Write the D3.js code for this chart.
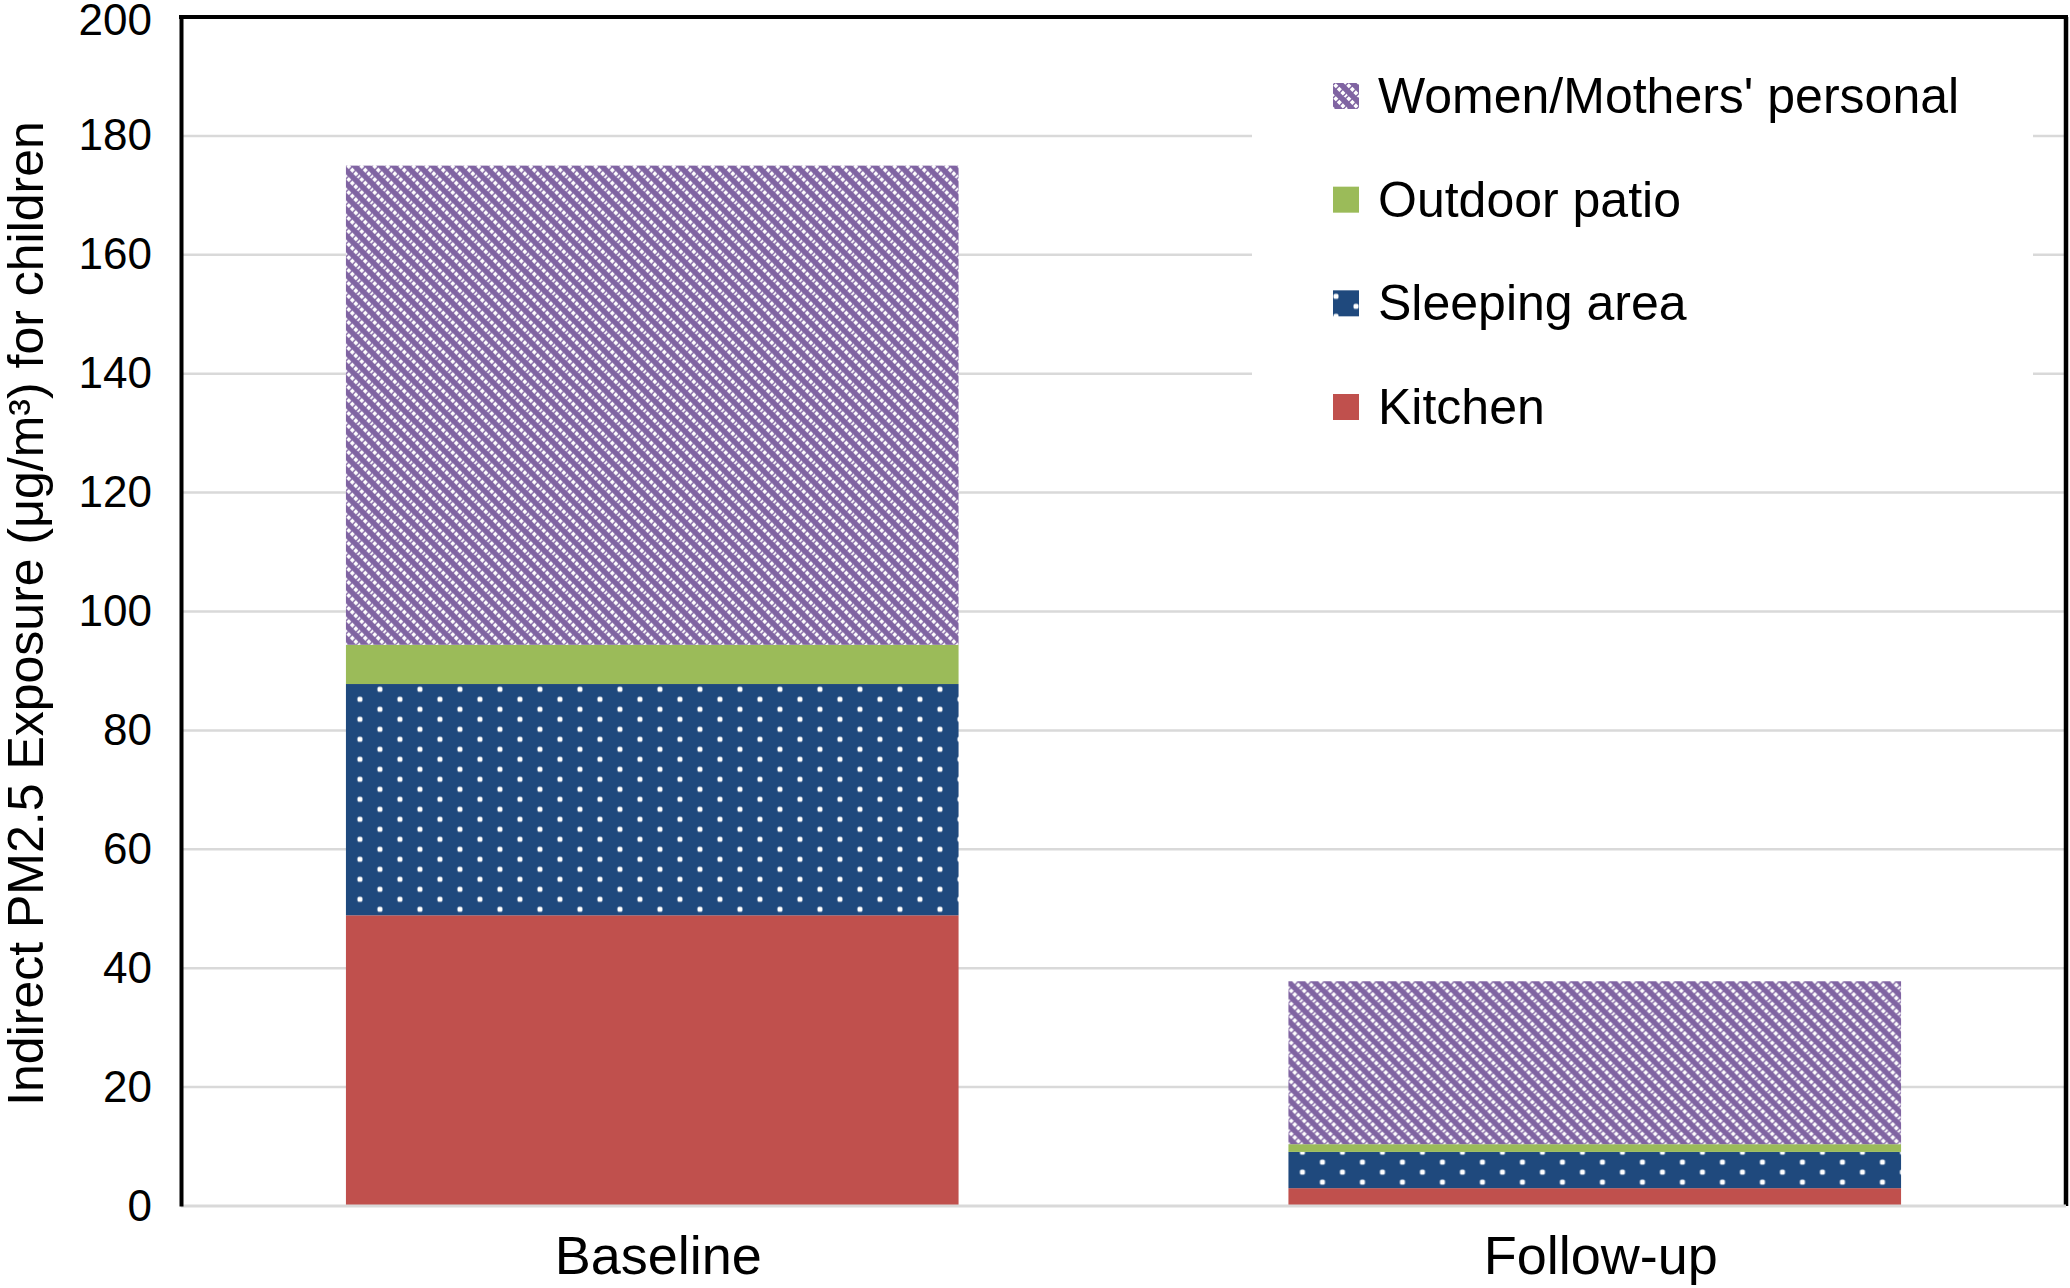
<!DOCTYPE html>
<html>
<head>
<meta charset="utf-8">
<script src="https://cdn.jsdelivr.net/npm/d3@7"></script>
<style>
  html, body { margin: 0; padding: 0; background: #ffffff; }
  svg { display: block; font-family: "Liberation Sans", Arial, sans-serif; }
</style>
</head>
<body>
<svg id="chart" width="2070" height="1288"></svg>
<script>
// ---- data ----
const categories = ["Baseline", "Follow-up"];
const seriesNames = ["Kitchen", "Sleeping area", "Outdoor patio", "Women/Mothers' personal"];
const kitchen = [48.9, 3.0];
const sleepingArea = [38.9, 6.1];
const outdoorPatio = [6.6, 1.3];
const womenPersonal = [80.6, 27.4];
const yTicks = [0, 20, 40, 60, 80, 100, 120, 140, 160, 180, 200];
const yTitle = "Indirect PM2.5 Exposure (\u03BCg/m\u00B3) for children";
const legendOrder = ["Women/Mothers' personal", "Outdoor patio", "Sleeping area", "Kitchen"];

// ---- layout ----
const plotLeft = 181, plotRight = 2066, plotTop = 17, plotBottom = 1206;

const svg = d3.select("#chart");
const defs = svg.append("defs");

const colors = {
  "Kitchen": "#C0504D",
  "Sleeping area": "#1F497D",
  "Outdoor patio": "#9BBB59",
  "Women/Mothers' personal": "#8064A2"
};

const rows = categories.map((c, i) => ({
  category: c,
  "Kitchen": kitchen[i],
  "Sleeping area": sleepingArea[i],
  "Outdoor patio": outdoorPatio[i],
  "Women/Mothers' personal": womenPersonal[i]
}));

const x = d3.scaleBand().domain(categories).range([plotLeft, plotRight])
  .paddingInner(0.35).paddingOuter(0.175);
const y = d3.scaleLinear().domain([0, 200]).range([plotBottom, plotTop]);

const stacked = d3.stack().keys(seriesNames)(rows);

// gridlines
svg.append("g")
  .selectAll("line")
  .data(yTicks.filter(t => t > 0 && t < 200))
  .join("line")
  .attr("x1", plotLeft).attr("x2", plotRight)
  .attr("y1", d => y(d)).attr("y2", d => y(d))
  .attr("stroke", "#D9D9D9").attr("stroke-width", 2.5);

// legend background (covers gridlines)
svg.append("rect")
  .attr("x", 1252).attr("y", 40).attr("width", 781).attr("height", 420)
  .attr("fill", "#ffffff");

// pattern helpers
function makeStripePattern(id, tx, ty) {
  const s = 13;
  const p = defs.append("pattern")
    .attr("id", id).attr("patternUnits", "userSpaceOnUse")
    .attr("width", s).attr("height", s)
    .attr("patternTransform", `translate(${tx},${ty})`);
  p.append("rect").attr("width", s).attr("height", s).attr("fill", colors["Women/Mothers' personal"]);
  p.append("path")
    .attr("d", `M-2,-2 L${s + 2},${s + 2} M-2,${s - 2} L2,${s + 2} M${s - 2},-2 L${s + 2},2`)
    .attr("stroke", "#ffffff").attr("stroke-width", 3.6)
    .attr("stroke-dasharray", "3.6 1.4");
}
function makeDotPattern(id, tx, ty) {
  const pw = 40, ph = 20;
  const p = defs.append("pattern")
    .attr("id", id).attr("patternUnits", "userSpaceOnUse")
    .attr("width", pw).attr("height", ph)
    .attr("patternTransform", `translate(${tx},${ty})`);
  p.append("rect").attr("width", pw).attr("height", ph).attr("fill", colors["Sleeping area"]);
  [[14, 3], [34, 13]].forEach(([cx, cy]) => {
    p.append("rect").attr("x", cx - 2.5).attr("y", cy - 2.5)
      .attr("width", 5).attr("height", 5).attr("rx", 1.5)
      .attr("fill", "#ffffff");
  });
}

function fillFor(key, d, i) {
  if (key === "Women/Mothers' personal") {
    const id = `stripe-${i}`;
    makeStripePattern(id, x(d.data.category), y(d[0]));
    return `url(#${id})`;
  }
  if (key === "Sleeping area") {
    const id = `dots-${i}`;
    makeDotPattern(id, x(d.data.category), y(d[0]) + 1);
    return `url(#${id})`;
  }
  return colors[key];
}

// bars
stacked.forEach(series => {
  svg.append("g")
    .selectAll("rect")
    .data(series)
    .join("rect")
    .attr("x", d => x(d.data.category))
    .attr("width", x.bandwidth())
    .attr("y", d => y(d[1]))
    .attr("height", d => y(d[0]) - y(d[1]))
    .attr("fill", (d, i) => fillFor(series.key, d, i));
});

// frame: top, right black; bottom axis gray
svg.append("line").attr("x1", plotLeft - 2).attr("x2", plotRight + 2).attr("y1", plotTop).attr("y2", plotTop)
  .attr("stroke", "#000").attr("stroke-width", 4);
svg.append("line").attr("x1", plotRight).attr("x2", plotRight).attr("y1", plotTop).attr("y2", plotBottom)
  .attr("stroke", "#000").attr("stroke-width", 4.5);
svg.append("line").attr("x1", plotLeft).attr("x2", plotRight).attr("y1", plotBottom).attr("y2", plotBottom)
  .attr("stroke", "#D9D9D9").attr("stroke-width", 3);

// y axis
const yAxis = d3.axisLeft(y).tickValues(yTicks).tickSize(0).tickPadding(29).tickFormat(d3.format("d"));
const yg = svg.append("g").attr("transform", `translate(${plotLeft},0)`).call(yAxis);
yg.select(".domain").attr("stroke", "#000").attr("stroke-width", 4);
yg.selectAll("text").attr("font-size", 44).attr("fill", "#000")
  .attr("font-family", "'Liberation Sans', Arial, sans-serif");
yg.selectAll(".tick").filter(d => d === 200).select("text").attr("dy", "0.4em");

// x axis labels
const xAxis = d3.axisBottom(x).tickSize(0).tickPadding(30);
const xg = svg.append("g").attr("transform", `translate(0,${plotBottom})`).call(xAxis);
xg.select(".domain").remove();
xg.selectAll("text").attr("font-size", 54).attr("fill", "#000").attr("dx", 6)
  .attr("font-family", "'Liberation Sans', Arial, sans-serif");

// y title
svg.append("text")
  .attr("transform", `translate(43,${(plotTop + plotBottom) / 2 + 2}) rotate(-90)`)
  .attr("text-anchor", "middle")
  .attr("font-size", 50)
  .attr("fill", "#000")
  .text(yTitle);

// legend
const legendY = d3.scalePoint().domain(legendOrder).range([96, 407]);
const lg = svg.append("g");
legendOrder.forEach(name => {
  const cy = legendY(name);
  let fill = colors[name];
  if (name === "Women/Mothers' personal") { makeStripePattern("leg-stripe", 1333, cy - 13); fill = "url(#leg-stripe)"; }
  if (name === "Sleeping area") { makeDotPattern("leg-dots", 1322, cy - 10); fill = "url(#leg-dots)"; }
  lg.append("rect").attr("x", 1333).attr("y", cy - 13).attr("width", 26).attr("height", 26).attr("fill", fill);
  lg.append("text").attr("x", 1378).attr("y", cy).attr("dominant-baseline", "central")
    .attr("font-size", 50).attr("fill", "#000").text(name);
});
</script>
</body>
</html>
